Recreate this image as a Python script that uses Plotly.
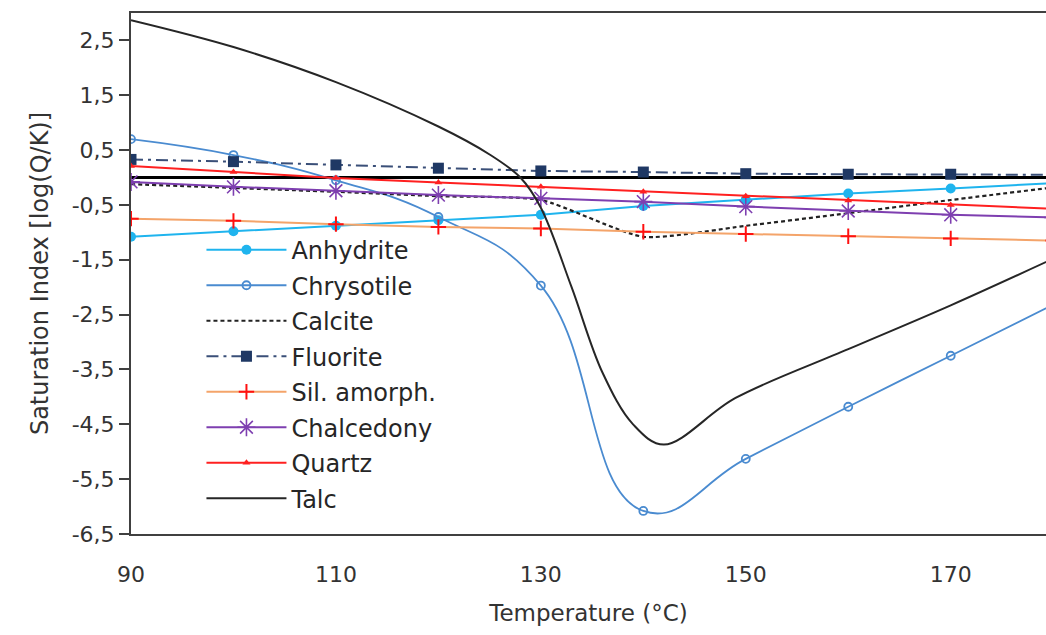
import plotly.graph_objects as go

# ---- data ----
temps = [90, 100, 110, 120, 130, 140, 150, 160, 170, 180]

anhydrite = [-1.08, -0.98, -0.88, -0.78, -0.68, -0.52, -0.40, -0.29, -0.20, -0.10]
chrysotile = [0.70, 0.41, -0.05, -0.72, -1.97, -6.08, -5.13, -4.18, -3.25, -2.32]
calcite = [-0.12, -0.19, -0.26, -0.34, -0.41, -1.08, -0.88, -0.65, -0.41, -0.18]
fluorite = [0.33, 0.29, 0.23, 0.17, 0.12, 0.10, 0.07, 0.06, 0.06, 0.05]
sil_amorph = [-0.75, -0.79, -0.85, -0.90, -0.93, -0.99, -1.03, -1.07, -1.11, -1.15]
chalcedony = [-0.08, -0.17, -0.24, -0.32, -0.38, -0.44, -0.53, -0.61, -0.68, -0.73]
quartz = [0.21, 0.10, -0.01, -0.09, -0.17, -0.26, -0.34, -0.42, -0.50, -0.57]

talc_t = [90, 100, 110, 120, 125, 128, 130, 133, 136, 139, 142, 149, 160, 170, 180]
talc = [2.87, 2.38, 1.74, 0.93, 0.42, 0.0, -0.55, -2.00, -3.55, -4.50, -4.87, -4.02, -3.13, -2.33, -1.48]

y_ticks = [-6.5, -5.5, -4.5, -3.5, -2.5, -1.5, -0.5, 0.5, 1.5, 2.5]
y_tick_text = ["-6,5", "-5,5", "-4,5", "-3,5", "-2,5", "-1,5", "-0,5", "0,5", "1,5", "2,5"]
x_ticks = [90, 110, 130, 150, 170]

FONT = "DejaVu Sans"

fig = go.Figure()


def add(name, x, y, color, width=2, dash="solid", symbol=None, msize=8,
        mcolor=None, mline_color=None, mline_width=0, shape="linear", smoothing=1):
    mode = "lines+markers" if symbol else "lines"
    line = dict(color=color, width=width, dash=dash, shape=shape)
    if shape == "spline":
        line["smoothing"] = smoothing
    kw = dict(x=x, y=y, name=name, mode=mode, line=line, legendgroup=name)
    if symbol:
        kw["marker"] = dict(symbol=symbol, size=msize, color=mcolor or color,
                            line=dict(color=mline_color or mcolor or color, width=mline_width))
    fig.add_trace(go.Scatter(**kw))


add("Anhydrite", temps, anhydrite, "#1FB4EE", width=2, symbol="circle", msize=10)
add("Chrysotile", temps, chrysotile, "#4A8BD0", width=1.8, symbol="circle-open", msize=8,
    mline_width=1.8, shape="spline", smoothing=1.3)
add("Calcite", temps, calcite, "#222222", width=2.2, dash="4px,3px", shape="spline", smoothing=0.6)
add("Fluorite", temps, fluorite, "#3A4F78", width=2, dash="12px,5px,3px,5px",
    symbol="square", msize=11, mcolor="#1F3864")
add("Sil. amorph.", temps, sil_amorph, "#F4A46A", width=2, symbol="cross-thin", msize=11,
    mline_color="#FF1010", mline_width=2)
add("Chalcedony", temps, chalcedony, "#7E3FB0", width=2, symbol="asterisk-open", msize=15,
    mline_color="#8A55C8", mline_width=1.6)
add("Quartz", temps, quartz, "#FF2020", width=2, symbol="triangle-up", msize=7)
add("Talc", talc_t, talc, "#262626", width=2, shape="spline", smoothing=1.0)

fig.update_layout(
    width=1046, height=635, autosize=False,
    margin=dict(l=131, r=0, t=13, b=101, pad=0),
    paper_bgcolor="white", plot_bgcolor="white",
    font=dict(family=FONT, color="#333333", size=21),
    showlegend=True,
    legend=dict(
        x=0.077, y=0.588, xanchor="left", yanchor="top",
        bgcolor="rgba(0,0,0,0)", borderwidth=0,
        font=dict(family=FONT, size=24, color="#262626"),
        traceorder="grouped", tracegroupgap=1.3, itemwidth=80,
    ),
    xaxis=dict(
        range=[90, 179.3], tickvals=x_ticks, ticks="", showgrid=False, zeroline=False,
        showline=True, linecolor="#404040", linewidth=2, mirror=True,
        tickfont=dict(size=22, color="#333333"), ticklabelstandoff=20,
        title=dict(text="Temperature (°C)", font=dict(size=23, color="#333333"), standoff=18),
    ),
    yaxis=dict(
        range=[-6.5, 3.0], tickvals=y_ticks, ticktext=y_tick_text,
        ticks="outside", ticklen=10, tickwidth=1.5, tickcolor="#404040",
        showline=True, linecolor="#404040", linewidth=2, mirror=False,
        showgrid=False, zeroline=True, zerolinecolor="#000000", zerolinewidth=3,
        tickfont=dict(size=22, color="#333333"),
        title=dict(text="Saturation Index [log(Q/K)]", font=dict(size=24, color="#333333"), standoff=16),
    ),
)

fig.write_html("out.html")
